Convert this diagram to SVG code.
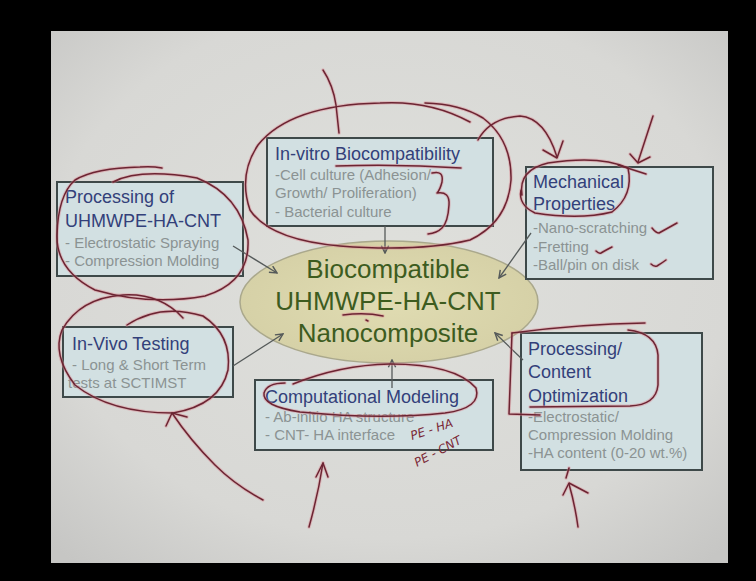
<svg xmlns="http://www.w3.org/2000/svg" xmlns:xlink="http://www.w3.org/1999/xlink" width="756" height="581" viewBox="0 0 756 581">
  <defs>
    <radialGradient id="slideShade" cx="50%" cy="45%" r="72%">
      <stop offset="0" stop-color="#dfe0dc"/>
      <stop offset="0.7" stop-color="#d8d8d5"/>
      <stop offset="1" stop-color="#c6c6c4"/>
    </radialGradient>
    <radialGradient id="hubShade" cx="50%" cy="50%" r="55%">
      <stop offset="0" stop-color="#e0dcb2"/>
      <stop offset="1" stop-color="#d5d0a6"/>
    </radialGradient>
    <marker id="arrowHead" viewBox="0 0 10 10" refX="9" refY="5" markerWidth="7" markerHeight="7" orient="auto">
      <path d="M1,1 L9,5 L1,9" fill="none" stroke="#555a5a" stroke-width="1.6"/>
    </marker>
    <style>
      .box { fill: #d2e0e2; stroke: #3e4949; stroke-width: 2; }
      .title { font-family: "Liberation Sans", Arial, sans-serif; font-size: 18px; fill: #33407a; }
      .sub { font-family: "Liberation Sans", Arial, sans-serif; font-size: 15px; fill: #8b9393; }
      .hub { font-family: "Liberation Sans", Arial, sans-serif; font-size: 26px; fill: #3d5c1f; text-anchor: middle; }
      .link { stroke: #555a5a; stroke-width: 1.3; fill: none; marker-end: url(#arrowHead); }
      .note { font-family: "DejaVu Sans", sans-serif; font-size: 12px; font-style: italic; fill: #7a2836; }
    </style>
    <!-- pen strokes over the slide -->
    <g id="ink" fill="none" stroke-linecap="round" stroke-linejoin="round">
      <path d="M323,70 Q333,85 336,105 L339,133"/>
      <path d="M470,122 Q430,100 380,103 Q290,105 258,145 Q238,175 250,210 Q270,240 340,246 Q420,252 470,240 Q508,222 511,180 Q512,140 483,118 Q460,104 425,103"/>
      <path d="M432,173 Q444,170 442,182 Q440,190 437,193 Q450,191 449,205 Q448,222 442,228 Q437,233 428,234"/>
      <path d="M336,166 Q400,164 461,168"/>
      <path d="M478,140 Q490,118 520,116 Q545,118 557,157"/>
      <path d="M543,150 L557,158 L563,141"/>
      <path d="M653,116 L638,162"/>
      <path d="M630,154 L638,163 L650,157"/>
      <path d="M522,195 Q518,170 548,163 Q600,155 628,168 Q634,195 612,212 Q580,220 535,213 Q518,205 521,190"/>
      <path d="M618,165 L646,174"/>
      <path d="M652,228 Q656,233 659,233 Q668,228 677,223"/>
      <path d="M596,251 Q599,254 601,253 Q606,250 612,247"/>
      <path d="M651,264 Q654,267 657,266 Q662,263 666,260"/>
      <path d="M113,182 Q140,168 197,178 Q240,195 248,240 Q250,282 205,296 Q150,306 95,290 Q56,270 57,235 Q58,195 75,180 Q95,168 140,167 Q152,166 162,168"/>
      <path d="M127,325 Q160,303 203,316 Q232,335 228,370 Q220,405 173,413 Q110,413 75,385 Q52,355 62,330 Q80,298 123,295 Q160,293 183,318"/>
      <path d="M263,500 Q235,485 215,465 Q190,440 172,413"/>
      <path d="M166,426 L172,413 L187,417"/>
      <path d="M293,384 Q340,365 390,364 Q455,364 476,388 Q482,408 445,413 Q380,420 300,412 Q262,406 264,393 Q267,383 285,383"/>
      <path d="M309,527 Q318,495 323,463"/>
      <path d="M316,477 L323,463 L328,477"/>
      <path d="M512,333 Q580,324 645,323"/>
      <path d="M628,330 Q656,333 658,355 L658,385 Q656,405 630,406 L530,407"/>
      <path d="M512,333 L509,414 L540,415"/>
      <path d="M578,527 Q575,505 569,484"/>
      <path d="M563,495 L569,483 L588,493"/>
      <path d="M569,468 L566,478"/>
      <path d="M343,315 Q365,312 383,316"/>
      <path d="M366,320 L368,321"/>
    </g>
  </defs>

  <!-- screen surround and slide -->
  <rect x="0" y="0" width="756" height="581" fill="#000"/>
  <rect x="51" y="31" width="677" height="532" fill="url(#slideShade)"/>

  <!-- central composite -->
  <g id="hub">
    <ellipse cx="389" cy="302" rx="149" ry="61" fill="url(#hubShade)" stroke="#aaa88c" stroke-width="1.5"/>
    <text class="hub" x="388" y="278">Biocompatible</text>
    <text class="hub" x="388" y="310">UHMWPE-HA-CNT</text>
    <text class="hub" x="388" y="342">Nanocomposite</text>
  </g>

  <g id="processing">
    <rect class="box" x="57" y="182" width="186" height="94"/>
    <text class="title" x="65" y="203">Processing of</text>
    <text class="title" x="65" y="227">UHMWPE-HA-CNT</text>
    <text class="sub" x="65" y="248">- Electrostatic Spraying</text>
    <text class="sub" x="65" y="266">- Compression Molding</text>
  </g>

  <g id="invitro">
    <rect class="box" x="267" y="138" width="226" height="88"/>
    <text class="title" x="275" y="160">In-vitro Biocompatibility</text>
    <text class="sub" x="275" y="180">-Cell culture (Adhesion/</text>
    <text class="sub" x="275" y="198">Growth/ Proliferation)</text>
    <text class="sub" x="275" y="217">- Bacterial culture</text>
  </g>

  <g id="mechanical">
    <rect class="box" x="526" y="167" width="187" height="112"/>
    <text class="title" x="533" y="188">Mechanical</text>
    <text class="title" x="533" y="210">Properties</text>
    <text class="sub" x="533" y="233">-Nano-scratching</text>
    <text class="sub" x="533" y="252">-Fretting</text>
    <text class="sub" x="533" y="270">-Ball/pin on disk</text>
  </g>

  <g id="invivo">
    <rect class="box" x="63" y="327" width="170" height="70"/>
    <text class="title" x="72" y="350">In-Vivo Testing</text>
    <text class="sub" x="72" y="370">- Long &amp; Short Term</text>
    <text class="sub" x="68" y="388">tests at SCTIMST</text>
  </g>

  <g id="modeling">
    <rect class="box" x="255" y="380" width="238" height="70"/>
    <text class="title" x="265" y="403">Computational Modeling</text>
    <text class="sub" x="265" y="422">- Ab-initio HA structure</text>
    <text class="sub" x="265" y="440">- CNT- HA interface</text>
  </g>

  <g id="optimization">
    <rect class="box" x="521" y="333" width="181" height="137"/>
    <text class="title" x="528" y="355">Processing/</text>
    <text class="title" x="528" y="378">Content</text>
    <text class="title" x="528" y="402">Optimization</text>
    <text class="sub" x="528" y="422">-Electrostatic/</text>
    <text class="sub" x="528" y="440">Compression Molding</text>
    <text class="sub" x="528" y="458">-HA content (0-20 wt.%)</text>
  </g>

  <g id="connectors">
    <line class="link" x1="233" y1="246" x2="277" y2="273"/>
    <line class="link" x1="385" y1="226" x2="385" y2="253"/>
    <line class="link" x1="531" y1="233" x2="499" y2="278"/>
    <line class="link" x1="233" y1="366" x2="283" y2="334"/>
    <line class="link" x1="392" y1="388" x2="392" y2="360"/>
    <line class="link" x1="523" y1="360" x2="495" y2="333"/>
  </g>

  <!-- pen layer: soft halo under a dark core -->
  <g id="annotations">
    <use xlink:href="#ink" stroke="#dc8c95" stroke-width="3.4" opacity="0.45"/>
    <use xlink:href="#ink" stroke="#6c2432" stroke-width="1.5"/>
    <text class="note" x="412" y="440" transform="rotate(-18 412 440)">PE - HA</text>
    <text class="note" x="417" y="467" transform="rotate(-28 417 467)">PE - CNT</text>
  </g>
</svg>
